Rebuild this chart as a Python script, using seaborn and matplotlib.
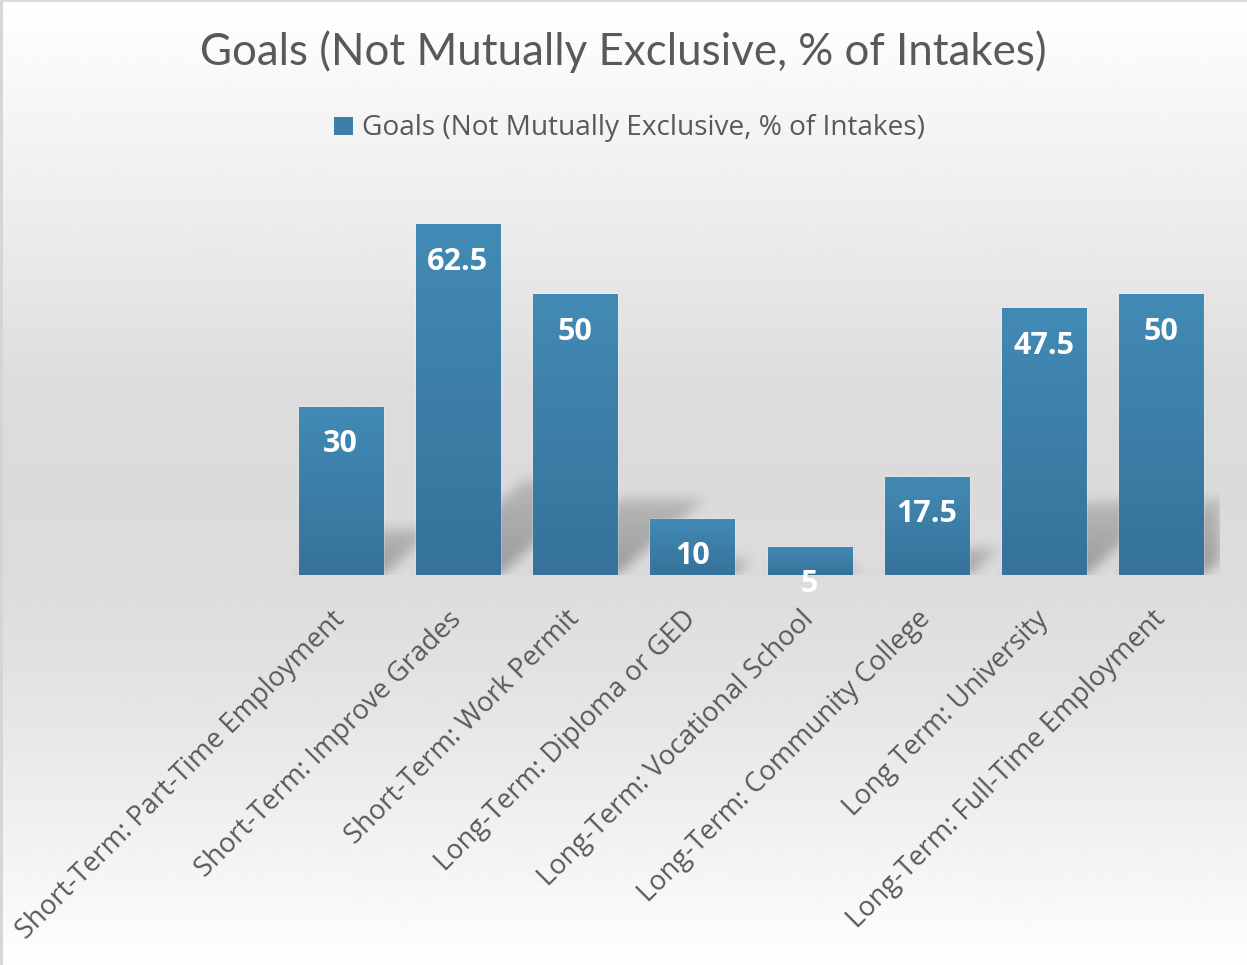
import numpy as np
import pandas as pd
import seaborn as sns
import matplotlib.pyplot as plt
from matplotlib.patches import Patch
from matplotlib.colors import LinearSegmentedColormap
from matplotlib.lines import Line2D

# ---- data ---------------------------------------------------------------
goals = [
    "Short-Term: Part-Time Employment",
    "Short-Term: Improve Grades",
    "Short-Term: Work Permit",
    "Long-Term: Diploma or GED",
    "Long-Term: Vocational School",
    "Long-Term: Community College",
    "Long Term: University",
    "Long-Term: Full-Time Employment",
]
pct = [30, 62.5, 50, 10, 5, 17.5, 47.5, 50]
series_name = "Goals (Not Mutually Exclusive, % of Intakes)"

df = pd.DataFrame({"goal": goals, "pct": pct})

# ---- style --------------------------------------------------------------
sns.set_theme(style="white")
plt.rcParams["font.family"] = ["Open Sans", "DejaVu Sans"]
TEXT_GREY = "#595959"
BAR_TOP = "#428ab5"
BAR_BOTTOM = "#36729a"

W, H = 1247, 965
fig = plt.figure(figsize=(W / 100, H / 100), dpi=100)

# soft vertical background wash: white -> light grey -> white
bg = fig.add_axes([0, 0, 1, 1], zorder=-10)
bg.axis("off")
stops_y = [0.0, 0.255, 0.40, 0.50, 0.60, 0.70, 0.89, 1.0]
stops_v = [1.0, 0.918, 0.866, 0.858, 0.862, 0.888, 0.955, 0.997]
yy = np.linspace(0, 1, 600)
shade = np.interp(yy, stops_y, stops_v)
bg.imshow(np.repeat(shade[:, None], 2, axis=1), cmap="gray", vmin=0, vmax=1,
          aspect="auto", extent=[0, 1, 0, 1], origin="upper",
          interpolation="bicubic")
bg.set_xlim(0, 1)
bg.set_ylim(0, 1)
bg.add_line(Line2D([0.001, 0.001], [0, 1], color="#d4d4d4", lw=2.0))
bg.add_line(Line2D([0, 1], [0.999, 0.999], color="#dcdcdc", lw=1.5))

# ---- plot area ----------------------------------------------------------
YMAX = 70
base_px, top_px = 575, 575 - 393.1
left_px, right_px = 282, 1220
ax = fig.add_axes([left_px / W, 1 - base_px / H,
                   (right_px - left_px) / W, (base_px - top_px) / H])
ax.set_facecolor("none")

sns.barplot(data=df, x="goal", y="pct", ax=ax, color=BAR_BOTTOM,
            saturation=1, width=0.717, zorder=2)

# vertical gradient on each bar
bar_cmap = LinearSegmentedColormap.from_list("bar", [BAR_BOTTOM, BAR_TOP])
grad = np.linspace(0, 1, 256)[:, None]
for p in ax.patches:
    x0, w, h = p.get_x(), p.get_width(), p.get_height()
    im = ax.imshow(grad, cmap=bar_cmap, aspect="auto", origin="lower",
                   extent=[x0, x0 + w, 0, h], zorder=2.5,
                   interpolation="bicubic")
    im.set_clip_path(p)

# soft perspective shadows cast behind the bars
nx, ny = int(right_px - left_px), int(round(base_px - top_px))
px_x = nx / len(pct)
px_y = ny / YMAX
mask = np.zeros((ny, nx))
cols = np.arange(nx)
for p in ax.patches:
    xl = (p.get_x() + 0.5) * px_x
    xr = (p.get_x() + p.get_width() + 0.5) * px_x
    hs = 0.27 * p.get_height() * px_y
    for r in range(int(hs) + 1):
        shift = 1.15 * r
        fade = 1 - 0.45 * r / max(hs, 1)
        sel = (cols >= xl + shift) & (cols <= xr + shift)
        mask[r, sel] = np.maximum(mask[r, sel], fade)
sig = 6.0
k = np.arange(-20, 21)
kern = np.exp(-0.5 * (k / sig) ** 2)
kern /= kern.sum()
blur = np.apply_along_axis(lambda v: np.convolve(v, kern, mode="same"), 1, mask)
blur = np.apply_along_axis(lambda v: np.convolve(v, kern, mode="same"), 0, blur)
shadow = np.zeros((ny, nx, 4))
shadow[..., 3] = 0.30 * blur
ax.imshow(shadow, aspect="auto", origin="lower",
          extent=[-0.5, len(pct) - 0.5, 0, YMAX], zorder=1)

# value labels inside the bars
for p, v in zip(ax.patches, pct):
    ax.annotate(f"{v:g}", xy=(p.get_x() + p.get_width() / 2, v),
                xytext=(0, -27), textcoords="offset points",
                ha="center", va="center", color="white", fontsize=22,
                fontweight="bold", zorder=5)

ax.set_xlim(-0.5, len(pct) - 0.5)
ax.set_ylim(0, YMAX)
ax.set_xlabel("")
ax.set_ylabel("")
ax.set_yticks([])
ax.set_xticks(range(len(goals)))
ax.set_xticklabels(goals, rotation=45, ha="right", va="center",
                   rotation_mode="anchor", color=TEXT_GREY, fontsize=19)
ax.tick_params(axis="x", length=0, pad=29)
for s in ax.spines.values():
    s.set_visible(False)

# ---- title and legend ---------------------------------------------------
title = fig.text(0.5, 1 - 52 / H, series_name, ha="center", va="center",
                 color=TEXT_GREY, fontsize=30, family=["Lato", "DejaVu Sans"])
leg = fig.legend(handles=[Patch(facecolor="#3c80aa", edgecolor="none")],
                 labels=[series_name], loc="center",
                 bbox_to_anchor=(629.5 / W, 1 - 128 / H), frameon=False,
                 fontsize=18, handlelength=0.75, handleheight=0.75,
                 handletextpad=0.35, labelcolor=TEXT_GREY)

# size text runs to their intended widths
fig.canvas.draw()
rend = fig.canvas.get_renderer()


def fit(t, target):
    w = t.get_window_extent(rend).width
    t.set_fontsize(t.get_fontsize() * target / w)


fit(title, 845)
fit(leg.get_texts()[0], 565)
ticks = ax.get_xticklabels()
w0 = ticks[0].get_window_extent(rend).width
fs = ticks[0].get_fontsize() * 339 / w0
for t in ticks:
    t.set_fontsize(fs)

fig.savefig("out.png", dpi=100)
